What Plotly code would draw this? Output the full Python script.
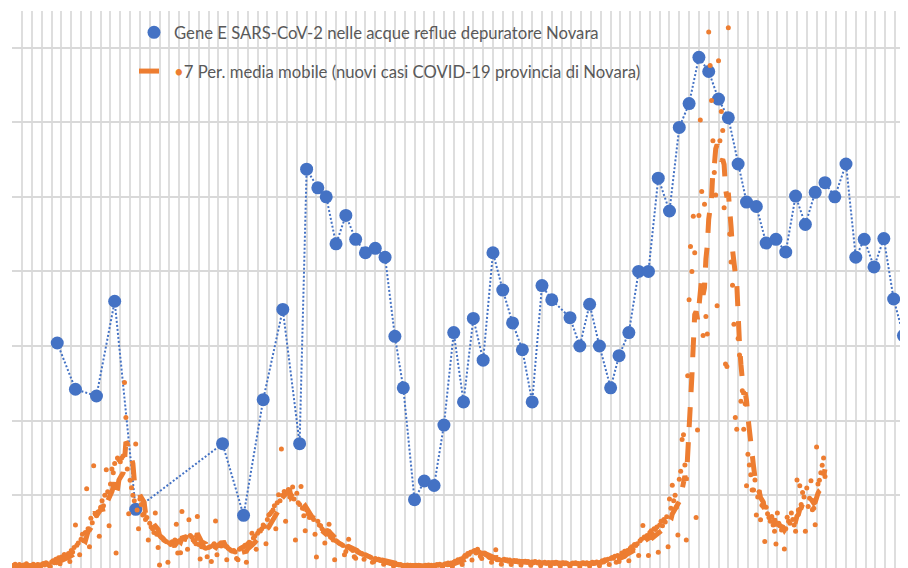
import pandas as pd
import plotly.graph_objects as go

# ---------------- DATA ----------------
inizio = pd.Timestamp("2020-09-01")

# Campionamenti Gene E (giorni dall'inizio) e valori (unità relative)
gene_giorni = [32, 45, 60, 73, 88, 150, 165, 179, 193, 205,
               210, 218, 224, 231, 238, 245, 252, 259, 266, 273,
               279, 287, 294, 301, 308, 315, 322, 329, 336, 343,
               350, 357, 364, 371, 378, 385, 398, 405, 412, 419,
               427, 433, 440, 447, 454, 461, 469, 476, 483, 490,
               497, 504, 511, 518, 524, 531, 538, 545, 552, 559,
               566, 573, 580, 587, 595, 602, 608, 615, 622, 629,
               636]
gene_valori = [3.04, 2.42, 2.33, 3.60, 0.81, 1.69, 0.73, 2.28, 3.49, 1.69,
               5.37, 5.12, 5.00, 4.37, 4.75, 4.43, 4.25, 4.31, 4.19, 3.13,
               2.44, 0.94, 1.19, 1.13, 1.94, 3.18, 2.25, 3.37, 2.81, 4.25,
               3.75, 3.31, 2.95, 2.25, 3.81, 3.62, 3.38, 3.00, 3.56, 3.00,
               2.44, 2.87, 3.18, 4.00, 4.00, 5.25, 4.81, 5.93, 6.25, 6.87,
               6.68, 6.31, 6.06, 5.44, 4.93, 4.87, 4.38, 4.43, 4.26, 5.01,
               4.63, 5.06, 5.19, 5.00, 5.44, 4.19, 4.43, 4.06, 4.44, 3.63,
               3.14]

# Nuovi casi giornalieri COVID-19, provincia di Novara (dal giorno 0)
casi_giornalieri = [
    8, 12, 15, 10, 9, 14, 5,
    11, 13, 9, 16, 12, 10, 6,
    12, 15, 11, 9, 14, 13, 7,
    14, 17, 13, 19, 16, 12, 9,
    21, 24, 19, 28, 25, 32, 16,
    34, 30, 41, 38, 33, 44, 22,
    52, 48, 60, 120, 66, 72, 40,
    82, 95, 78, 100, 217, 110, 62,
    138, 126, 279, 150, 145, 155, 90,
    168, 185, 172, 200, 268, 209, 118,
    230, 270, 260, 285, 45, 300, 295,
    290, 300, 305, 502, 408, 270, 150,
    240, 220, 200, 185, 337, 160, 110,
    190, 175, 147, 150, 135, 140, 80,
    125, 115, 110, 100, 152, 95, 60,
    13, 88, 85, 80, 78, 75, 20,
    72, 68, 75, 70, 80, 122, 45,
    78, 46, 156, 85, 82, 88, 55,
    134, 92, 88, 80, 75, 70, 143,
    68, 29, 62, 64, 60, 58, 35,
    60, 62, 22, 65, 70, 131, 40,
    66, 70, 64, 68, 72, 65, 27,
    58, 55, 52, 50, 52, 48, 30,
    27, 55, 58, 60, 62, 66, 20,
    70, 74, 72, 98, 85, 90, 55,
    98, 105, 104, 110, 120, 116, 70,
    135, 147, 150, 155, 160, 172, 110,
    180, 201, 185, 324, 200, 210, 130,
    205, 215, 195, 200, 222, 190, 80,
    205, 180, 175, 223, 165, 145, 105,
    160, 150, 140, 145, 140, 135, 95,
    34, 130, 120, 118, 110, 105, 72,
    100, 95, 122, 88, 85, 80, 27,
    78, 75, 72, 70, 68, 65, 40,
    49, 62, 82, 58, 55, 52, 35,
    31, 50, 48, 45, 44, 42, 28,
    40, 38, 36, 35, 33, 20, 22,
    30, 28, 27, 26, 25, 24, 15,
    22, 20, 19, 18, 17, 16, 10,
    15, 14, 15, 13, 14, 12, 7,
    12, 11, 13, 10, 12, 11, 6,
    11, 12, 10, 12, 11, 9, 5,
    10, 12, 11, 13, 10, 12, 6,
    12, 11, 14, 12, 15, 13, 7,
    14, 16, 14, 18, 16, 18, 9,
    20, 23, 22, 27, 25, 29, 14,
    33, 38, 36, 44, 42, 47, 26,
    50, 52, 45, 55, 48, 36, 30,
    44, 45, 40, 38, 34, 32, 20,
    30, 32, 54, 27, 28, 26, 15,
    26, 28, 25, 27, 23, 26, 14,
    23, 25, 22, 24, 21, 23, 13,
    22, 21, 23, 20, 22, 19, 12,
    21, 19, 22, 20, 18, 21, 11,
    19, 18, 20, 17, 19, 18, 10,
    18, 19, 17, 20, 18, 16, 10,
    17, 19, 16, 18, 17, 15, 9,
    16, 18, 17, 19, 16, 17, 9,
    17, 19, 18, 16, 19, 17, 10,
    18, 20, 17, 19, 21, 18, 11,
    20, 24, 21, 27, 25, 28, 14,
    30, 33, 31, 36, 20, 38, 22,
    36, 45, 40, 50, 48, 52, 24,
    58, 62, 55, 68, 65, 70, 38,
    78, 82, 119, 88, 85, 92, 38,
    100, 105, 95, 110, 108, 115, 47,
    120, 130, 118, 135, 128, 142, 62,
    190, 165, 227, 185, 200, 168, 93,
    243, 264, 349, 362, 281, 80, 520,
    724, 867, 800, 948, 850, 140, 375,
    950, 1206, 1014, 628, 980, 679, 632,
    1442, 1352, 1258, 1150, 1065, 1005, 708,
    1365, 1150, 1229, 1178, 971, 552, 545,
    1453, 900, 825, 763, 658, 408, 377,
    620, 576, 452, 480, 377, 445, 225,
    310, 281, 255, 214, 214, 241, 147,
    195, 209, 134, 173, 170, 76, 168,
    150, 140, 130, 143, 120, 103, 69,
    152, 125, 118, 107, 115, 56, 110,
    141, 130, 125, 152, 135, 120, 103,
    241, 160, 225, 175, 207, 195, 103,
    219, 170, 192, 239, 161, 165, 121,
    329, 230, 240, 260, 280, 300, 250,
]

nome_gene = "Gene E SARS-CoV-2 nelle acque reflue depuratore Novara"
nome_media = ("<span style='color:#ED7D31'>\u2022</span>"
              "7 Per. media mobile (nuovi casi COVID-19 provincia di Novara)")

# ---------------- DERIVED ----------------
date_gene = [inizio + pd.Timedelta(days=g) for g in gene_giorni]
date_casi = [inizio + pd.Timedelta(days=i) for i in range(len(casi_giornalieri))]
media_mobile = pd.Series(casi_giornalieri, dtype=float).rolling(7).mean()

BLU = "#4472C4"
ARANCIO = "#ED7D31"

fig = go.Figure()

fig.add_trace(go.Scatter(
    x=date_gene, y=gene_valori, mode="lines",
    line=dict(color=BLU, width=2, dash="2px,2px"),
    showlegend=False, hoverinfo="skip", yaxis="y"))
fig.add_trace(go.Scatter(
    x=date_gene, y=gene_valori, mode="markers", name=nome_gene,
    marker=dict(color=BLU, size=13), legendgroup="a", legendrank=1,
    yaxis="y"))
fig.add_trace(go.Scatter(
    x=date_casi, y=casi_giornalieri, mode="markers",
    marker=dict(color=ARANCIO, size=5), showlegend=False,
    name="nuovi casi COVID-19 provincia di Novara", yaxis="y2"))
fig.add_trace(go.Scatter(
    x=date_casi, y=media_mobile, mode="lines", name=nome_media,
    line=dict(color=ARANCIO, width=5, dash="20px,15px"),
    legendgroup="b", legendrank=2, yaxis="y2"))

# the page body has an 8px margin: figure is 900x560 placed at (8, 8)
W, H = 900, 560
L, T = 4, 3
plot_w = W - L
plot_h = H - T
px_per_day = 1.401
x0 = inizio - pd.Timedelta(hours=7)
x1 = x0 + pd.Timedelta(days=plot_w / px_per_day)

fig.update_layout(
    width=W, height=H,
    margin=dict(l=L, r=0, t=T, b=0, autoexpand=False),
    paper_bgcolor="white", plot_bgcolor="white",
    font=dict(family="Lato, Noto Sans, sans-serif", size=16.7, color="#595959"),
    xaxis=dict(type="date", range=[x0, x1], tick0=inizio,
               dtick=7 * 86400000, showticklabels=False, ticks="",
               showgrid=True, gridcolor="#DEDEDE", gridwidth=2,
               zeroline=False, showline=False),
    yaxis=dict(range=[0.024, 7.491], tick0=0, dtick=1,
               showticklabels=False, ticks="", showgrid=True,
               gridcolor="#D9D9D9", gridwidth=2, zeroline=False,
               showline=False),
    yaxis2=dict(range=[4.8, 1498.2], overlaying="y", side="right",
                showticklabels=False, ticks="", showgrid=False,
                zeroline=False, showline=False),
    legend=dict(x=(134 - 8 - L) / plot_w, y=1 - (15 - 8 - T) / plot_h,
                xanchor="left", yanchor="top",
                bgcolor="rgba(0,0,0,0)", borderwidth=0,
                tracegroupgap=14, traceorder="grouped",
                font=dict(family="Lato, Noto Sans, sans-serif", size=16.7,
                          color="#595959")),
    showlegend=True,
)

fig.write_html("out.html")
